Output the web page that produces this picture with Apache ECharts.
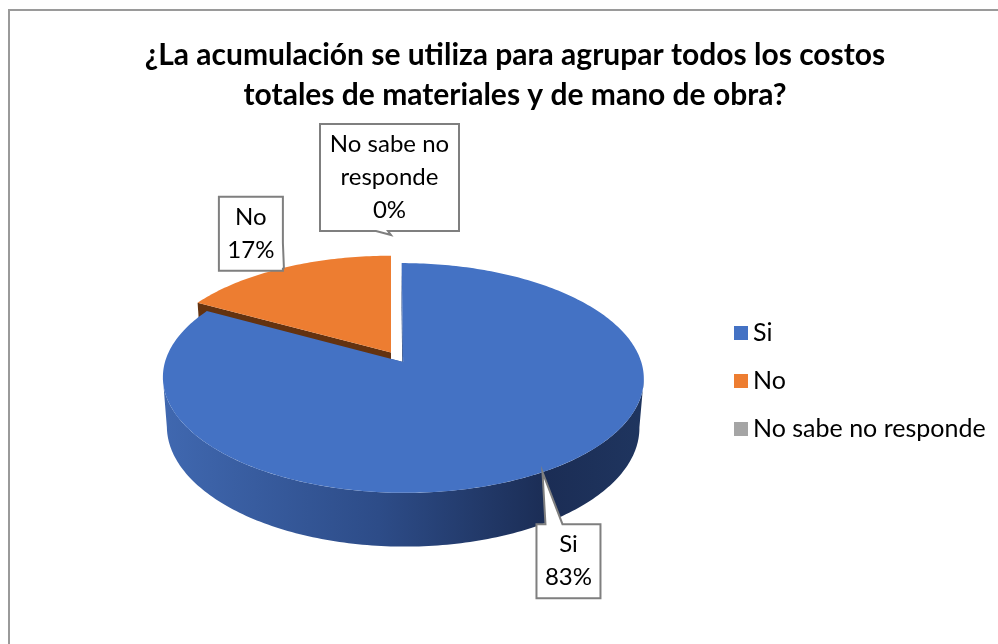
<!DOCTYPE html>
<html>
<head>
<meta charset="utf-8">
<script src="https://cdn.jsdelivr.net/npm/echarts@6/dist/echarts.min.js"></script>
<style>
  html, body { margin: 0; padding: 0; background: #fff; }
  #chart { width: 998px; height: 644px; }
</style>
</head>
<body>
<div id="chart"></div>
<script>
const categories = ['Si', 'No', 'No sabe no responde'];
const percents = [83, 17, 0];
const colors = ['#4472C4', '#ED7D31', '#A5A5A5'];
const wallColors = ['#2E4F8A', '#633210', '#6E6E6E'];
const explode = [0.1, 0, 0];

// tilted disk seen in perspective, like the Excel 3-D pie
const CX = 391, CY = 352.4, F = 1513, DIST = 6.43, THICK = 0.236;
const TILT = 27.87 * Math.PI / 180;
const cosT = Math.cos(TILT), sinT = Math.sin(TILT);
const DEG = Math.PI / 180;

// callout boxes: offset of the box from the slice anchor, box size, side of the pointer
const callouts = [
  { dx: -6, dy: 52, w: 64, h: 74, side: 'top', b0: 9, b1: 26 },
  { dx: -65, dy: -71, w: 64, h: 74, side: 'right', b0: 46, b1: 72 },
  { dx: -71, dy: -111, w: 139, h: 107, side: 'bottom', b0: 56, b1: 68 }
];

function project(X, Z, h) {
  const yc = Z * sinT - h * cosT;
  const zc = DIST + Z * cosT + h * sinT;
  return [CX + F * X / zc, CY - F * yc / zc];
}

const total = percents.reduce((a, b) => a + b, 0);

function slice(i) {
  let start = 0;
  for (let k = 0; k < i; k++) start += percents[k] / total * 360;
  const end = start + percents[i] / total * 360;
  const mid = (start + end) / 2 * DEG;
  return {
    a0: start * DEG, a1: end * DEG, mid: mid,
    ox: explode[i] * Math.sin(mid), oz: explode[i] * Math.cos(mid)
  };
}

function arc(g, from, to, h) {
  const pts = [];
  const n = Math.max(2, Math.ceil(Math.abs(to - from) / DEG));
  for (let k = 0; k <= n; k++) {
    const t = from + (to - from) * k / n;
    pts.push(project(g.ox + Math.sin(t), g.oz + Math.cos(t), h));
  }
  return pts;
}

function renderWalls(params, api) {
  const i = params.dataIndex;
  if (!(api.value(0) > 0)) return;
  const g = slice(i);
  const children = [];
  [g.a0, g.a1].forEach(function (a) {
    const ex = g.ox + Math.sin(a), ez = g.oz + Math.cos(a);
    children.push({
      type: 'polygon',
      shape: { points: [project(g.ox, g.oz, 0), project(ex, ez, 0), project(ex, ez, THICK), project(g.ox, g.oz, THICK)] },
      style: { fill: wallColors[i] }
    });
  });
  const lo = Math.max(g.a0, 98 * DEG), hi = Math.min(g.a1, 262 * DEG);
  if (lo < hi) {
    const pts = arc(g, lo, hi, 0).concat(arc(g, hi, lo, THICK));
    children.push({
      type: 'polygon',
      shape: { points: pts },
      style: {
        fill: new echarts.graphic.LinearGradient(163, 0, 642, 0, [
          { offset: 0, color: '#4068B0' },
          { offset: 0.45, color: '#2D4C88' },
          { offset: 0.8, color: '#1B2D55' },
          { offset: 1, color: '#1F355F' }
        ], true)
      }
    });
  }
  return { type: 'group', children: children };
}

function calloutPoints(c, x0, y0, tip) {
  const x1 = x0 + c.w, y1 = y0 + c.h;
  if (c.side === 'top') {
    return [[x0, y0], [x0 + c.b0, y0], tip, [x0 + c.b1, y0], [x1, y0], [x1, y1], [x0, y1]];
  }
  if (c.side === 'right') {
    return [[x0, y0], [x1, y0], [x1, y0 + c.b0], tip, [x1, y0 + c.b1], [x1, y1], [x0, y1]];
  }
  return [[x0, y0], [x1, y0], [x1, y1], [x0 + c.b1, y1], tip, [x0 + c.b0, y1], [x0, y1]];
}

function renderTops(params, api) {
  const i = params.dataIndex;
  const value = api.value(0);
  const g = slice(i);
  const children = [];
  if (value > 0) {
    children.push({
      type: 'polygon',
      shape: { points: [project(g.ox, g.oz, 0)].concat(arc(g, g.a0, g.a1, 0)) },
      style: { fill: colors[i] }
    });
  }
  // label anchor on the outer edge of the slice, at its middle angle
  const r = value > 0 ? 1 : 1.25;
  const tip = project(g.ox + r * Math.sin(g.mid), g.oz + r * Math.cos(g.mid), 0);
  const c = callouts[i];
  const x0 = tip[0] + c.dx, y0 = tip[1] + c.dy;
  children.push({
    type: 'polygon',
    z2: 20,
    shape: { points: calloutPoints(c, x0, y0, tip) },
    style: { fill: '#fff', stroke: '#7F7F7F', lineWidth: 2 }
  });
  const name = categories[i] === 'No sabe no responde' ? 'No sabe no\nresponde' : categories[i];
  children.push({
    type: 'text',
    z2: 21,
    x: x0 + c.w / 2,
    y: y0 + c.h / 2,
    style: {
      text: name + '\n' + Math.round(value / total * 100) + '%',
      align: 'center',
      verticalAlign: 'middle',
      fill: '#000',
      font: '24px Lato',
      lineHeight: 33
    }
  });
  return { type: 'group', children: children };
}

const seriesData = categories.map((name, i) => ({ name: name, value: [percents[i]] }));

const chart = echarts.init(document.getElementById('chart'));
chart.setOption({
  animation: false,
  title: {
    text: '¿La acumulación se utiliza para agrupar todos los costos\ntotales de materiales y de mano de obra?',
    left: 510,
    top: 30,
    textAlign: 'center',
    textStyle: { fontFamily: 'Lato', fontWeight: 'bold', fontSize: 30, lineHeight: 40, color: '#000' }
  },
  legend: {
    orient: 'vertical',
    left: 734,
    top: 320,
    itemWidth: 14,
    itemHeight: 14,
    itemGap: 22,
    icon: 'rect',
    padding: 0,
    selectedMode: false,
    textStyle: { fontFamily: 'Lato', fontSize: 25, lineHeight: 26, color: '#000' },
    data: categories
  },
  graphic: [{
    type: 'rect',
    shape: { x: 9, y: 10, width: 1000, height: 700 },
    style: { fill: 'none', stroke: '#9A9A9A', lineWidth: 2 }
  }],
  series: [
    {
      // only feeds the legend
      type: 'pie',
      radius: 0,
      center: [-50, -50],
      silent: true,
      label: { show: false },
      labelLine: { show: false },
      data: categories.map((name, i) => ({ name: name, value: percents[i], itemStyle: { color: colors[i] } }))
    },
    { type: 'custom', coordinateSystem: 'none', renderItem: renderWalls, data: seriesData, silent: true },
    { type: 'custom', coordinateSystem: 'none', renderItem: renderTops, data: seriesData, silent: true }
  ]
});
</script>
</body>
</html>
